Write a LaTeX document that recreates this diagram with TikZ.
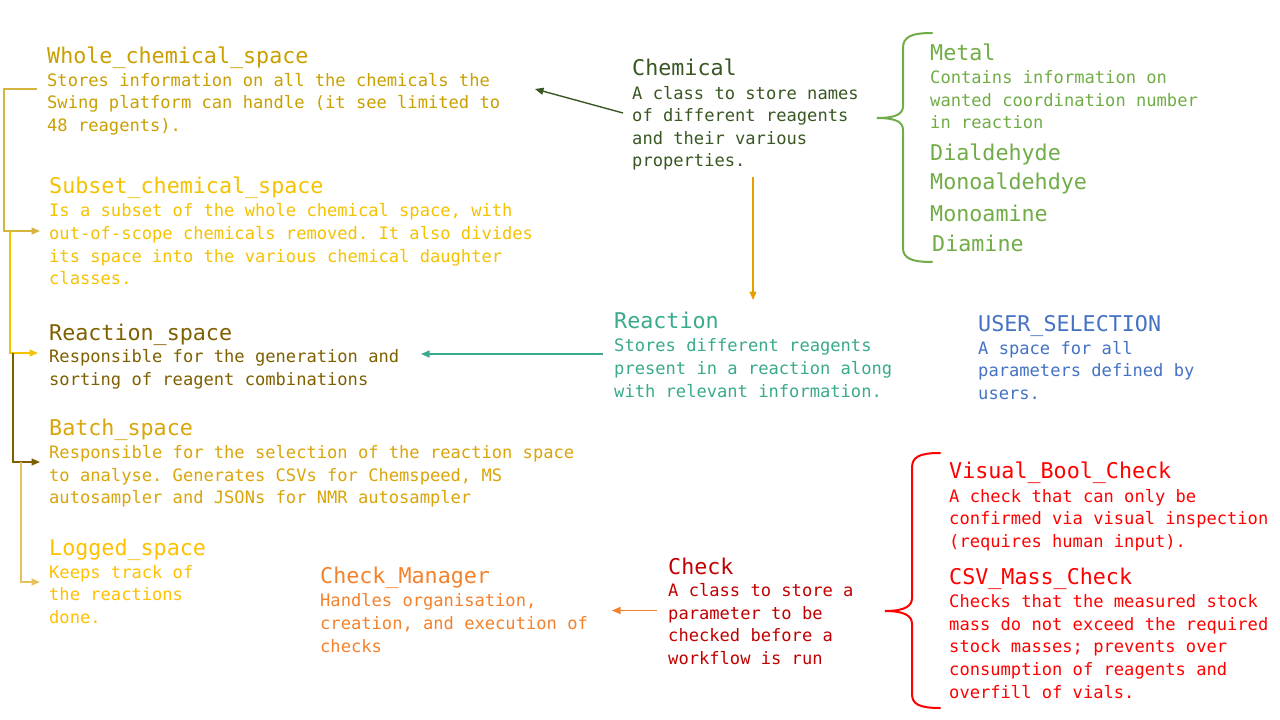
\documentclass[tikz,border=0pt]{standalone}
\usepackage{fontspec}
\usetikzlibrary{arrows.meta}
\newfontfamily\monofam{DejaVu Sans Mono}
\newcommand\mytitlefont{\monofam\fontsize{21.7}{26}\selectfont}
\newcommand\mybodyfont{\monofam\fontsize{17.1}{22.6}\selectfont\frenchspacing}
\definecolor{cWhole}{HTML}{C9A000}
\definecolor{cSubset}{HTML}{F5C200}
\definecolor{cReacSp}{HTML}{7F6000}
\definecolor{cBatch}{HTML}{D9A50A}
\definecolor{cLogged}{HTML}{FFC000}
\definecolor{cLineA}{HTML}{D6B440}
\definecolor{cLineD}{HTML}{E6C35A}
\definecolor{cChem}{HTML}{385723}
\definecolor{cMetal}{HTML}{70AD47}
\definecolor{cReac}{HTML}{3AAA8C}
\definecolor{cUser}{HTML}{4472C4}
\definecolor{cRed}{HTML}{FF0000}
\definecolor{cCheck}{HTML}{C00000}
\definecolor{cMgr}{HTML}{F4812B}
\definecolor{cVert}{HTML}{E5A000}
\tikzset{
  ttl/.style={anchor=base west, inner sep=0pt, font=\mytitlefont},
  bdy/.style={anchor=base west, inner sep=0pt, align=left, font=\mybodyfont},
  conn/.style={line width=1.4pt, -{Triangle[length=8.5pt,width=7pt]}},
  brace/.style={line width=2pt, line cap=round}
}
\begin{document}
\begin{tikzpicture}[x=1pt,y=-1pt]
\useasboundingbox (0,0) rectangle (1280,720);
\fill[white] (0,0) rectangle (1280,720);

% Left column (body nodes are placed by the baseline of their last line)
\node[ttl, text=cWhole] (whole) at (47,63) {Whole\_chemical\_space};
\node[bdy, text=cWhole] (wholeb) at (47,131.2) {Stores information on all the chemicals the\\Swing platform can handle (it see limited to\\48 reagents).};

\node[ttl, text=cSubset] (subset) at (49,193.5) {Subset\_chemical\_space};
\node[bdy, text=cSubset] (subsetb) at (49,284.6) {Is a subset of the whole chemical space, with\\out-of-scope chemicals removed. It also divides\\its space into the various chemical daughter\\classes.};

\node[ttl, text=cReacSp] (reacsp) at (49,340) {Reaction\_space};
\node[bdy, text=cReacSp] (reacspb) at (49,385.1) {Responsible for the generation and\\sorting of reagent combinations};

\node[ttl, text=cBatch] (batch) at (49,435.7) {Batch\_space};
\node[bdy, text=cBatch] (batchb) at (49,503.7) {Responsible for the selection of the reaction space\\to analyse. Generates CSVs for Chemspeed, MS\\autosampler and JSONs for NMR autosampler};

\node[ttl, text=cLogged] (logged) at (49,555) {Logged\_space};
\node[bdy, text=cLogged] (loggedb) at (49,623.5) {Keeps track of\\the reactions\\done.};

% Chemical
\node[ttl, text=cChem] (chem) at (632,75) {Chemical};
\node[bdy, text=cChem] (chemb) at (632,166.8) {A class to store names\\of different reagents\\and their various\\properties.};

% Metal group
\node[ttl, text=cMetal] (metal) at (930,60.7) {Metal};
\node[bdy, text=cMetal] (metalb) at (930,128.7) {Contains information on\\wanted coordination number\\in reaction};
\node[ttl, text=cMetal] (dial) at (930,160) {Dialdehyde};
\node[ttl, text=cMetal] (monoal) at (930,189.5) {Monoaldehdye};
\node[ttl, text=cMetal] (monoam) at (930,221.5) {Monoamine};
\node[ttl, text=cMetal] (diam) at (932,251) {Diamine};

% Reaction
\node[ttl, text=cReac] (reac) at (614,328.5) {Reaction};
\node[bdy, text=cReac] (reacb) at (614,397) {Stores different reagents\\present in a reaction along\\with relevant information.};

% User selection
\node[ttl, text=cUser] (user) at (978,331.7) {USER\_SELECTION};
\node[bdy, text=cUser] (userb) at (978,399.4) {A space for all\\parameters defined by\\users.};

% Checks
\node[ttl, text=cRed] (vis) at (949,478.3) {Visual\_Bool\_Check};
\node[bdy, text=cRed] (visb) at (949,547.5) {A check that can only be\\confirmed via visual inspection\\(requires human input).};
\node[ttl, text=cRed] (csv) at (949,584) {CSV\_Mass\_Check};
\node[bdy, text=cRed] (csvb) at (949,698.1) {Checks that the measured stock\\mass do not exceed the required\\stock masses; prevents over\\consumption of reagents and\\overfill of vials.};

\node[ttl, text=cCheck] (check) at (668,574) {Check};
\node[bdy, text=cCheck] (checkb) at (668,664.3) {A class to store a\\parameter to be\\checked before a\\workflow is run};

\node[ttl, text=cMgr] (mgr) at (320,583.5) {Check\_Manager};
\node[bdy, text=cMgr] (mgrb) at (320,652) {Handles organisation,\\creation, and execution of\\checks};

% Connector end points
\coordinate (chemout) at (623,113);
\coordinate (wholein) at (535,89);
\coordinate (chemdown) at (753,177);
\coordinate (reacin) at (753,300);
\coordinate (reacout) at (603,354);
\coordinate (reacspin) at (421,354);
\coordinate (checkout) at (657,610.5);
\coordinate (mgrin) at (612,610.5);
\coordinate (wA) at (37,89);
\coordinate (sA) at (40,231);
\coordinate (sB) at (10,231);
\coordinate (rB) at (38,353);
\coordinate (rC) at (13,353);
\coordinate (bC) at (40,462);
\coordinate (bD) at (21,462);
\coordinate (lD) at (40,582);

% Connectors
\draw[conn, cChem] (chemout) -- (wholein);
\draw[conn, cVert] (chemdown) -- (reacin);
\draw[conn, cReac] (reacout) -- (reacspin);
\draw[conn, cMgr] (checkout) -- (mgrin);

\draw[conn, cLineA] (wA) -- (4,89) |- (sA);
\draw[conn, cSubset] (sB) |- (rB);
\draw[conn, cReacSp] (rC) |- (bC);
\draw[conn, cLineD] (bD) |- (lD);

% Braces
\coordinate (gtip) at (877,118);
\draw[brace, cMetal] (932,33) .. controls (911,33) and (903,37) .. (903,48)
  -- (903,106) .. controls (903,114) and (896,118) .. (gtip)
  .. controls (896,118) and (903,122) .. (903,130)
  -- (903,248) .. controls (903,258) and (911,262) .. (932,262);
\coordinate (rtip) at (885,611);
\draw[brace, cRed] (940,453) .. controls (919,453) and (912,457) .. (912,468)
  -- (912,598) .. controls (912,606) and (905,611) .. (rtip)
  .. controls (905,611) and (912,616) .. (912,624)
  -- (912,694) .. controls (912,704) and (919,708) .. (940,708);
\end{tikzpicture}
\end{document}
